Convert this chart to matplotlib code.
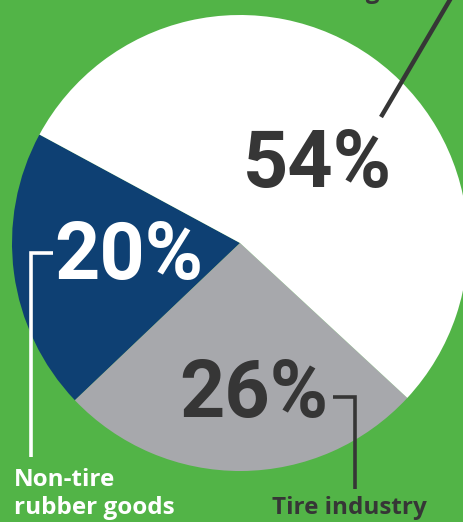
import matplotlib
matplotlib.use("Agg")
import matplotlib.pyplot as plt

# rubber consumption by end use
segments = ["Non-tire rubber goods", "Tire industry", "Other"]
shares = [20, 26, 54]
share_labels = ["20%", "26%", "54%"]
colors = ["#0e4073", "#a7a8ac", "#ffffff"]
label_colors = ["#ffffff", "#363636", "#363636"]

GREEN = "#52b447"
DARK = "#363636"

fig = plt.figure(figsize=(4.63, 5.22), dpi=100)
fig.patch.set_facecolor(GREEN)
ax = fig.add_axes([0, 0, 1, 1])
ax.set_facecolor(GREEN)

cx, cy, r = 240, 279, 228
ax.pie(shares, colors=colors, startangle=151.6, counterclock=True,
       center=(cx, cy), radius=r, frame=True,
       wedgeprops=dict(linewidth=0))
ax.set_xlim(0, 463)
ax.set_ylim(0, 522)
ax.set_aspect("equal")
ax.axis("off")

pct_font = dict(family="Roboto", weight="bold", fontsize=57)
label_pos = [(129, 265), (254, 127), (317, 356)]
for txt, col, (x, y) in zip(share_labels, label_colors, label_pos):
    ax.text(x, y, txt, color=col, ha="center", va="center", **pct_font)

# leader lines
ax.plot([53, 31, 31], [269, 269, 65], color="white", lw=2.6,
        solid_capstyle="butt", solid_joinstyle="miter")
ax.plot([333, 355, 355], [125, 125, 33], color=DARK, lw=2.6,
        solid_capstyle="butt", solid_joinstyle="miter")
ax.plot([381, 451], [405, 524], color=DARK, lw=3.2, solid_capstyle="butt")

lab_font = dict(family="Open Sans", weight="bold", fontsize=17.5)
ax.text(14, 8, "Non-tire\nrubber goods", color="white", ha="left",
        va="baseline", linespacing=1.2, **lab_font)
ax.text(272, 8, "Tire industry", color=DARK, ha="left", va="baseline",
        **lab_font)
ax.text(380, 523.5, "Other rubber elements manufacturing", color=DARK,
        ha="right", va="baseline", **lab_font)

fig.savefig("out.png", dpi=100, facecolor=GREEN)
